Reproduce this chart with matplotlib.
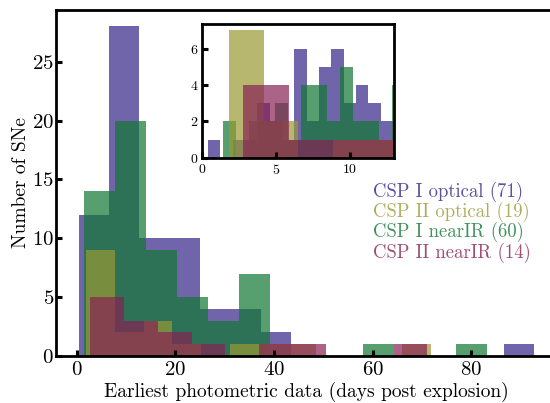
import numpy as np
import matplotlib

matplotlib.use("Agg")
import matplotlib.pyplot as plt
from matplotlib.colors import to_rgba

plt.rcParams["font.family"] = "serif"
plt.rcParams["font.serif"] = ["cmr10"]
plt.rcParams["mathtext.fontset"] = "cm"
plt.rcParams["axes.formatter.use_mathtext"] = True

"""
Earliest photometric epoch (days post explosion) per SN, binned counts
"""

names = ["CSP I optical", "CSP II optical", "CSP I nearIR", "CSP II nearIR"]
colors = ["#332288", "#999933", "#117733", "#882255"]

# main histogram: counts per bin and the data range the bins span
opt1_counts = [12, 28, 10, 10, 4, 4, 2, 0, 0, 0, 0, 0, 0, 0, 1]
opt1_range = (0.4, 92.8)
opt2_counts = [9, 2, 3, 1, 0, 1, 1, 1, 0, 0, 0, 1]
opt2_range = (1.9, 71.86)
nir1_counts = [14, 20, 9, 5, 3, 7, 0, 0, 0, 1, 0, 0, 1]
nir1_range = (1.4, 83.2)
nir2_counts = [5, 3, 2, 1, 0, 1, 1, 0, 0, 1]
nir2_range = (2.78, 71.08)

# zoom on the first ~13 days, finer bins
opt1_zoom_counts = [1, 0, 1, 1, 3, 2, 1, 6, 2, 5, 6, 3, 4, 3, 2, 2]
opt1_zoom_range = (0.41, 13.77)
opt2_zoom_counts = [7, 2, 0, 1, 1]
opt2_zoom_range = (1.86, 13.51)
nir1_zoom_counts = [2, 0, 2, 2, 3, 1, 4, 4, 2, 5, 2, 2, 1, 4]
nir1_zoom_range = (1.42, 13.74)
nir2_zoom_counts = [4, 1, 1, 1]
nir2_zoom_range = (2.78, 15.18)


def draw_hist(axis, counts, lims, color):
    edges = np.linspace(lims[0], lims[1], len(counts) + 1)
    _, _, bars = axis.hist(edges[:-1], bins=edges, weights=counts, color=color, alpha=0.7)
    return bars


def style_axis(axis, size, lw=2.0):
    for side in ["left", "bottom", "top", "right"]:
        axis.spines[side].set_linewidth(lw)
    axis.tick_params(direction="in", length=4.5, width=2.2, labelsize=size,
                     top=False, right=False)


fig = plt.figure(figsize=(5.5, 4.03), dpi=100)
ax = fig.add_axes([0.1018, 0.1166, 0.911, 0.8586])
ins = fig.add_axes([0.3673, 0.6082, 0.349, 0.3323])

# nearIR drawn before CSP II optical so the olive sits on top of the green
b_opt1 = draw_hist(ax, opt1_counts, opt1_range, colors[0])
b_nir1 = draw_hist(ax, nir1_counts, nir1_range, colors[2])
b_opt2 = draw_hist(ax, opt2_counts, opt2_range, colors[1])
b_nir2 = draw_hist(ax, nir2_counts, nir2_range, colors[3])

draw_hist(ins, opt1_zoom_counts, opt1_zoom_range, colors[0])
draw_hist(ins, nir1_zoom_counts, nir1_zoom_range, colors[2])
draw_hist(ins, opt2_zoom_counts, opt2_zoom_range, colors[1])
draw_hist(ins, nir2_zoom_counts, nir2_zoom_range, colors[3])

ax.set_xticks([0, 20, 40, 60, 80])
ax.set_yticks([0, 5, 10, 15, 20, 25])
ax.set_xlabel("Earliest photometric data (days post explosion)", fontsize=14, labelpad=2)
ax.set_ylabel("Number of SNe", fontsize=14, labelpad=1)
style_axis(ax, 15)
ax.tick_params(axis="y", pad=1.5)

ins.set_xlim(0, 13)
ins.set_xticks([0, 5, 10])
ins.set_yticks([0, 2, 4, 6])
style_axis(ins, 10)
ins.tick_params(axis="y", pad=2.5)

totals = [sum(opt1_counts), sum(opt2_counts), sum(nir1_counts), sum(nir2_counts)]
labels = [f"{n} ({t})" for n, t in zip(names, totals)]
leg = ax.legend([b_opt1, b_opt2, b_nir1, b_nir2], labels, loc="upper left",
                bbox_to_anchor=(0.632, 0.503), frameon=False, fontsize=13.5,
                handlelength=0, handletextpad=0, borderpad=0, borderaxespad=0,
                labelspacing=0.0,
                labelcolor=[to_rgba(c, 0.8) for c in colors])
for h in leg.legend_handles:
    h.set_visible(False)

fig.savefig("out.png", dpi=100)
